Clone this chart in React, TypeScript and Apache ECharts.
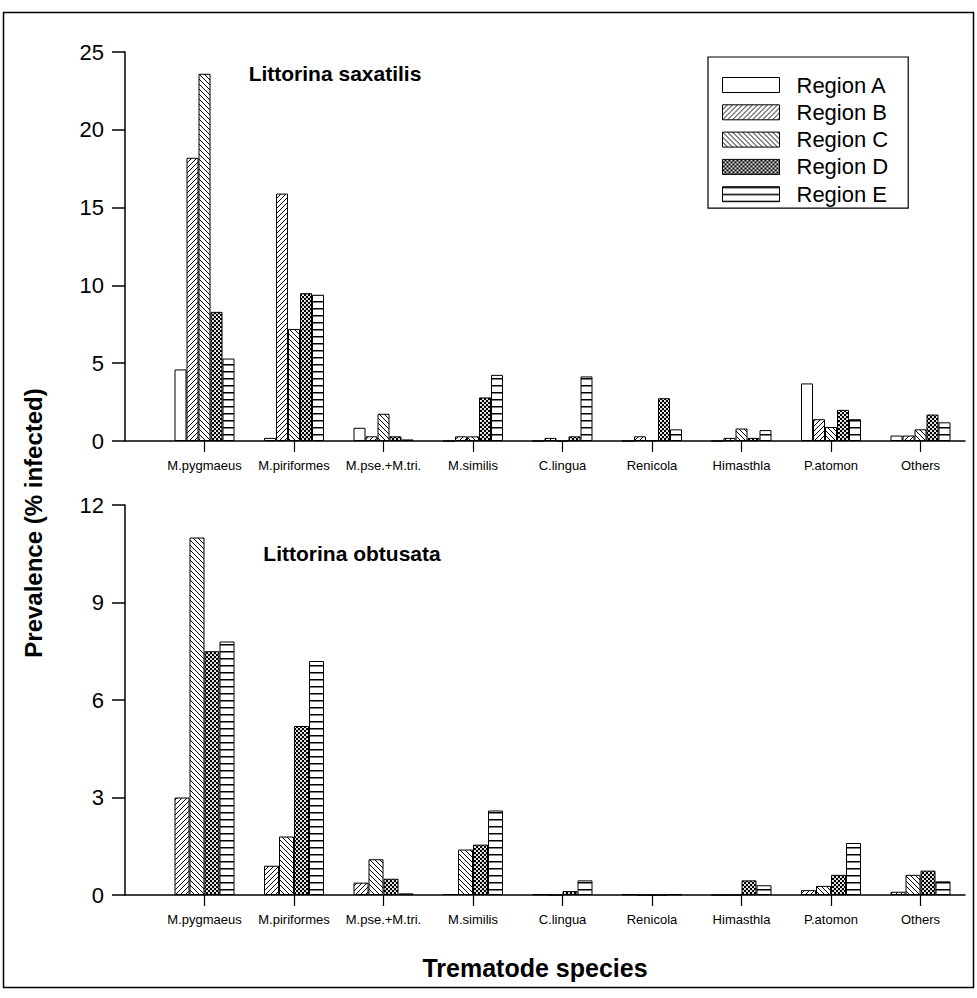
import React, { useEffect, useRef } from "react";
import * as echarts from "echarts";

const categories = [
  "M.pygmaeus", "M.piriformes", "M.pse.+M.tri.", "M.similis", "C.lingua",
  "Renicola", "Himasthla", "P.atomon", "Others",
];
const regionNames = ["Region A", "Region B", "Region C", "Region D", "Region E"];

// Littorina saxatilis (top panel)
const saxA = [4.6, 0.2, 0.85, 0, 0, 0, 0, 3.7, 0.35];
const saxB = [18.2, 15.9, 0.3, 0.3, 0.2, 0.3, 0.2, 1.4, 0.35];
const saxC = [23.6, 7.2, 1.75, 0.3, 0, 0.05, 0.8, 0.9, 0.75];
const saxD = [8.3, 9.5, 0.3, 2.8, 0.3, 2.75, 0.2, 2.0, 1.7];
const saxE = [5.3, 9.4, 0.1, 4.25, 4.15, 0.75, 0.7, 1.4, 1.2];

// Littorina obtusata (bottom panel, no Region A)
const obtB = [3.0, 0.9, 0.38, 0.03, 0.02, 0.02, 0, 0.15, 0.1];
const obtC = [11.0, 1.8, 1.1, 1.4, 0, 0, 0, 0.28, 0.62];
const obtD = [7.5, 5.2, 0.5, 1.55, 0.12, 0, 0.45, 0.62, 0.75];
const obtE = [7.8, 7.2, 0.05, 2.6, 0.45, 0.02, 0.3, 1.6, 0.42];

const topTicks = { min: 0, max: 25, interval: 5 };
const bottomTicks = { min: 0, max: 12, interval: 3 };

const FONT = "'Liberation Sans', Arial, Helvetica, sans-serif";
const NARROW = "'Liberation Sans Narrow', 'Arial Narrow', 'Liberation Sans', Arial, sans-serif";

function makePattern(kind: string) {
  const c = document.createElement("canvas");
  let w = 5, h = 5;
  if (kind === "D") { w = 4; h = 4; }
  if (kind === "E") { w = 2; h = 7; }
  c.width = w; c.height = h;
  const ctx = c.getContext("2d")!;
  ctx.fillStyle = "#fff";
  ctx.fillRect(0, 0, w, h);
  ctx.strokeStyle = "#000";
  ctx.fillStyle = "#000";
  ctx.lineWidth = 1;
  const seg = (a: number, b: number, cc: number, d: number) => {
    ctx.beginPath(); ctx.moveTo(a, b); ctx.lineTo(cc, d); ctx.stroke();
  };
  if (kind === "B") {
    seg(-1, w + 1, w + 1, -1);
    seg(-1, 1, 1, -1);
    seg(w - 1, w + 1, w + 1, w - 1);
  } else if (kind === "C") {
    seg(-1, -1, w + 1, w + 1);
    seg(-1, w - 1, 1, w + 1);
    seg(w - 1, -1, w + 1, 1);
  } else if (kind === "D") {
    ctx.fillStyle = "#000";
    ctx.fillRect(0, 0, w, h);
    ctx.fillStyle = "#fff";
    ctx.beginPath(); ctx.arc(1, 1, 1.05, 0, Math.PI * 2); ctx.fill();
    ctx.beginPath(); ctx.arc(3, 3, 1.05, 0, Math.PI * 2); ctx.fill();
  } else if (kind === "E") {
    ctx.fillRect(0, 0, w, 1.5);
  }
  return { image: c, repeat: "repeat", imageWidth: w, imageHeight: h } as any;
}

export default function App() {
  const ref = useRef<HTMLDivElement>(null);
  useEffect(() => {
    const chart = echarts.init(ref.current!, null, { renderer: "svg" });
    const fills: Record<string, any> = {
      "Region A": "#fff",
      "Region B": makePattern("B"),
      "Region C": makePattern("C"),
      "Region D": makePattern("D"),
      "Region E": makePattern("E"),
    };
    const topData = [saxA, saxB, saxC, saxD, saxE];
    const botData = [obtB, obtC, obtD, obtE];
    const barStyle = (name: string) => ({
      color: fills[name],
      borderColor: "#000",
      borderWidth: 1,
    });
    const series: any[] = [];
    regionNames.forEach((name, i) => {
      series.push({
        type: "bar", name, xAxisIndex: 1, yAxisIndex: 1,
        data: topData[i], barWidth: 12, barGap: "0%",
        itemStyle: barStyle(name),
        emphasis: { disabled: true },
      });
    });
    regionNames.slice(1).forEach((name, i) => {
      series.push({
        type: "bar", name, xAxisIndex: 3, yAxisIndex: 3,
        data: botData[i], barWidth: 15, barGap: "0%",
        itemStyle: barStyle(name),
        emphasis: { disabled: true },
      });
    });

    const frameX = (gridIndex: number) => ({
      type: "value", gridIndex, min: 0, max: 1,
      axisLine: { show: true, onZero: false, lineStyle: { color: "#000", width: 1.5 } },
      axisTick: { show: false }, axisLabel: { show: false }, splitLine: { show: false },
    });
    const labelX = (gridIndex: number) => ({
      type: "category", gridIndex, data: categories,
      axisLine: { show: false },
      axisTick: { show: true, alignWithLabel: true, length: 11, lineStyle: { color: "#000", width: 1.2 } },
      axisLabel: { interval: 0, fontSize: 13, color: "#000", fontFamily: NARROW, margin: 18 },
      splitLine: { show: false },
    });
    const frameY = (gridIndex: number, t: any) => ({
      type: "value", gridIndex, ...t,
      axisLine: { show: true, onZero: false, lineStyle: { color: "#000", width: 1.5 } },
      axisTick: { show: true, length: 13, lineStyle: { color: "#000", width: 1.5 } },
      axisLabel: { fontSize: 22, color: "#000", fontFamily: FONT, margin: 21 },
      splitLine: { show: false },
    });
    const hiddenY = (gridIndex: number, t: any) => ({
      type: "value", gridIndex, ...t, show: false, splitLine: { show: false },
    });

    chart.setOption({
      animation: false,
      backgroundColor: "#fff",
      grid: [
        { left: 125, right: 12, top: 52, height: 389 },
        { left: 159.75, right: 11.75, top: 52, height: 389 },
        { left: 125, right: 12, top: 505, height: 390 },
        { left: 159.75, right: 11.75, top: 505, height: 390 },
      ],
      xAxis: [frameX(0), labelX(1), frameX(2), labelX(3)],
      yAxis: [frameY(0, topTicks), hiddenY(1, topTicks), frameY(2, bottomTicks), hiddenY(3, bottomTicks)],
      legend: {
        data: regionNames,
        orient: "vertical",
        left: 708, top: 57,
        padding: [17, 20, 3, 14],
        itemWidth: 57, itemHeight: 15, itemGap: 5.3,
        borderColor: "#000", borderWidth: 1.2,
        selectedMode: false,
        icon: "rect",
        itemStyle: { borderColor: "#000", borderWidth: 1 },
        textStyle: { fontSize: 22, lineHeight: 22, color: "#000", fontFamily: FONT, padding: [0, 0, 0, 12] },
      },
      graphic: [
        {
          type: "rect", silent: true, z: -10,
          shape: { x: 3.5, y: 12.5, width: 970, height: 975 },
          style: { fill: "none", stroke: "#000", lineWidth: 1.5 },
        },
        {
          type: "text", x: 335, y: 73,
          style: { text: "Littorina saxatilis", font: `bold 21px ${FONT}`, fill: "#000", textAlign: "center", textVerticalAlign: "middle" },
        },
        {
          type: "text", x: 352, y: 553,
          style: { text: "Littorina obtusata", font: `bold 21px ${FONT}`, fill: "#000", textAlign: "center", textVerticalAlign: "middle" },
        },
        {
          type: "text", x: 535, y: 968,
          style: { text: "Trematode species", font: `bold 25px ${FONT}`, fill: "#000", textAlign: "center", textVerticalAlign: "middle" },
        },
        {
          type: "text", x: 33, y: 523, rotation: Math.PI / 2,
          style: { text: "Prevalence (% infected)", font: `bold 24px ${FONT}`, fill: "#000", textAlign: "center", textVerticalAlign: "middle" },
        },
      ],
      series,
    });
    return () => chart.dispose();
  }, []);
  return (
    <div
      ref={ref}
      style={{ position: "absolute", left: 0, top: 0, width: 977, height: 998, background: "#fff" }}
    />
  );
}
